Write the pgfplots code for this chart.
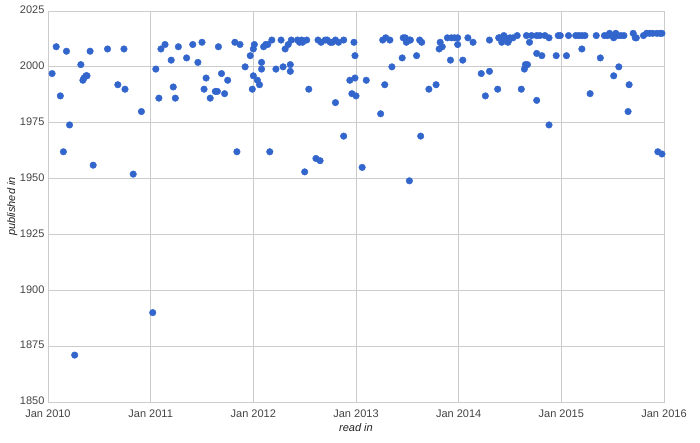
\documentclass[border=0pt]{standalone}
\usepackage{pgfplots}
\pgfplotsset{compat=1.18}
\usepackage{fontspec}
\setmainfont{Liberation Sans}
\definecolor{ptblue}{HTML}{3366CC}
\definecolor{gridc}{HTML}{CCCCCC}
\definecolor{tickc}{HTML}{444444}
\definecolor{labc}{HTML}{222222}
\begin{document}
\begin{tikzpicture}[x=1pt,y=1pt]
\useasboundingbox (0,0) rectangle (700,442);
\begin{axis}[
  at={(48pt,40pt)}, anchor=south west,
  scale only axis, width=616pt, height=391pt,
  xmin=2010, xmax=2016, ymin=1850, ymax=2025,
  xtick={2010,2011,2012,2013,2014,2015,2016},
  xticklabels={Jan 2010,Jan 2011,Jan 2012,Jan 2013,Jan 2014,Jan 2015,Jan 2016},
  ytick={1850,1875,1900,1925,1950,1975,2000,2025},
  /pgf/number format/1000 sep={},
  /pgf/number format/assume math mode=true,
  major tick length=0pt,
  grid=major,
  major grid style={gridc, line width=0.8pt},
  axis line style={gridc, line width=0.8pt},
  ticklabel style={font=\fontsize{11}{13}\selectfont, text=tickc},
  xticklabel style={yshift=-4pt},
  yticklabel style={yshift=1pt},
  xlabel={read in}, ylabel={published in},
  label style={font=\fontsize{11}{13}\selectfont\itshape, text=labc},
  xlabel style={at={(axis description cs:0.5,-0.0665)}, anchor=center},
  ylabel style={at={(axis description cs:-0.058,0.5)}, anchor=center, rotate=0},
  clip=false,
]
\addplot[only marks, mark=*, mark size=3.3pt, color=ptblue, mark options={draw=ptblue, fill=ptblue}] table {
x y
2010.04 1997
2010.08 2009
2010.12 1987
2010.15 1962
2010.18 2007
2010.21 1974
2010.26 1871
2010.32 2001
2010.34 1994
2010.35 1995
2010.37 1996
2010.38 1996
2010.41 2007
2010.44 1956
2010.58 2008
2010.68 1992
2010.74 2008
2010.75 1990
2010.83 1952
2010.91 1980
2011.02 1890
2011.05 1999
2011.08 1986
2011.10 2008
2011.14 2010
2011.20 2003
2011.22 1991
2011.24 1986
2011.27 2009
2011.35 2004
2011.41 2010
2011.46 2002
2011.50 2011
2011.52 1990
2011.54 1995
2011.58 1986
2011.63 1989
2011.65 1989
2011.66 2009
2011.69 1997
2011.72 1988
2011.75 1994
2011.82 2011
2011.84 1962
2011.87 2010
2011.92 2000
2011.97 2005
2011.99 1990
2012.00 1996
2012.00 2008
2012.01 2010
2012.04 1994
2012.06 1992
2012.08 2002
2012.08 1999
2012.10 2009
2012.12 2010
2012.14 2010
2012.16 1962
2012.18 2012
2012.22 1999
2012.27 2012
2012.29 2000
2012.31 2008
2012.34 2010
2012.36 2001
2012.36 1998
2012.37 2012
2012.43 2012
2012.45 2011
2012.47 2012
2012.48 2011
2012.52 2012
2012.50 1953
2012.54 1990
2012.61 1959
2012.65 1958
2012.63 2012
2012.66 2011
2012.70 2012
2012.72 2012
2012.75 2011
2012.77 2011
2012.80 2012
2012.83 2011
2012.88 2012
2012.80 1984
2012.88 1969
2012.94 1994
2012.96 1988
2012.99 1995
2013.00 1987
2012.98 2011
2012.99 2005
2013.06 1955
2013.10 1994
2013.24 1979
2013.26 2012
2013.29 2013
2013.33 2012
2013.28 1992
2013.35 2000
2013.45 2004
2013.46 2013
2013.48 2013
2013.50 2012
2013.49 2011
2013.52 2012
2013.53 2012
2013.52 1949
2013.59 2005
2013.62 2012
2013.64 2011
2013.63 1969
2013.71 1990
2013.78 1992
2013.81 2008
2013.82 2011
2013.84 2009
2013.92 2003
2013.89 2013
2013.93 2013
2013.96 2013
2013.99 2013
2013.99 2010
2014.04 2003
2014.09 2013
2014.14 2011
2014.22 1997
2014.26 1987
2014.30 1998
2014.30 2012
2014.38 1990
2014.39 2013
2014.40 2013
2014.42 2011
2014.44 2014
2014.46 2013
2014.48 2011
2014.49 2012
2014.50 2013
2014.53 2013
2014.57 2014
2014.61 1990
2014.64 1999
2014.65 2001
2014.67 2001
2014.66 2014
2014.69 2011
2014.71 2014
2014.76 2006
2014.76 1985
2014.76 2014
2014.79 2014
2014.81 2005
2014.84 2014
2014.88 2013
2014.88 1974
2014.95 2005
2014.97 2014
2014.99 2014
2015.05 2005
2015.07 2014
2015.14 2014
2015.17 2014
2015.20 2014
2015.23 2014
2015.20 2008
2015.28 1988
2015.34 2014
2015.38 2004
2015.42 2014
2015.45 2014
2015.47 2015
2015.49 2014
2015.51 2013
2015.53 2015
2015.55 2014
2015.58 2014
2015.61 2014
2015.51 1996
2015.56 2000
2015.65 1980
2015.66 1992
2015.70 2015
2015.72 2013
2015.73 2013
2015.80 2014
2015.83 2015
2015.86 2015
2015.89 2015
2015.93 2015
2015.96 2015
2015.98 2015
2015.94 1962
2015.98 1961
};
\end{axis}
\end{tikzpicture}
\end{document}
